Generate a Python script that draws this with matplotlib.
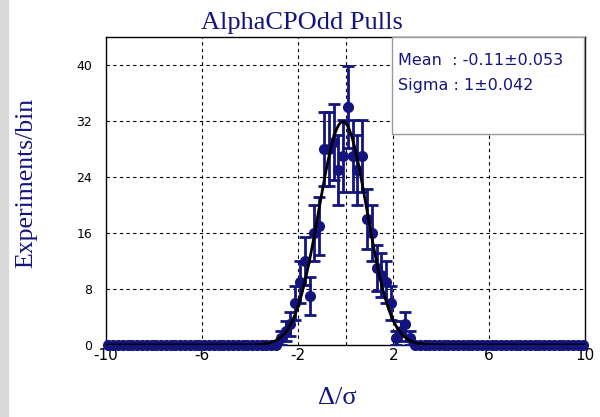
import numpy as np
import matplotlib.pyplot as plt
from matplotlib.patches import Rectangle

plt.rcParams['axes.unicode_minus'] = False

# pull histogram: 100 bins from -10 to 10, only the central bins are filled
bin_lo = -10.0
bin_hi = 10.0
n_bins = 100
filled_centers = [-2.7, -2.5, -2.3, -2.1, -1.9, -1.7, -1.5, -1.3, -1.1, -0.9,
                  -0.7, -0.5, -0.3, -0.1, 0.1, 0.3, 0.5, 0.7, 0.9, 1.1,
                  1.3, 1.5, 1.7, 1.9, 2.1, 2.3, 2.5, 2.7]
filled_counts = [1, 2, 3, 6, 9, 12, 7, 16, 17, 28,
                 28, 29, 25, 27, 34, 27, 25, 27, 18, 16,
                 11, 10, 9, 6, 1, 2, 3, 1]

# gaussian fit result
fit_mean = -0.11
fit_mean_err = 0.053
fit_sigma = 1.0
fit_sigma_err = 0.042

x_ticks = [-10, -6, -2, 2, 6, 10]
x_grid = [-6, -2, 0, 2, 6]
y_ticks = [0, 8, 16, 24, 32, 40]

navy = '#14147f'

width = (bin_hi - bin_lo) / n_bins
centers = bin_lo + width * (np.arange(n_bins) + 0.5)
counts = np.zeros(n_bins)
for c, n in zip(filled_centers, filled_counts):
    counts[np.argmin(np.abs(centers - c))] = n
errors = np.sqrt(counts)

fig = plt.figure(figsize=(6, 4.17), dpi=100)
fig.patches.append(Rectangle((0, 0), 8 / 600, 1, transform=fig.transFigure,
                             color='#d9d9d9', zorder=0))
ax = fig.add_axes([0.1767, 0.1727, 0.7983, 0.7383])

for g in x_grid:
    ax.axvline(g, color='black', linestyle=(0, (3, 3)), linewidth=0.8, zorder=1)
for g in y_ticks[1:]:
    ax.axhline(g, color='black', linestyle=(0, (3, 3)), linewidth=0.8, zorder=1)

# fit curve, normalised to the number of entries times the bin width
xs = np.linspace(bin_lo, bin_hi, 1000)
amp = counts.sum() * width / (np.sqrt(2 * np.pi) * fit_sigma)
ax.plot(xs, amp * np.exp(-0.5 * ((xs - fit_mean) / fit_sigma) ** 2),
        color='black', linewidth=2, zorder=4)

pts = ax.errorbar(centers, counts, yerr=errors, fmt='o', color=navy, markersize=7,
                  elinewidth=2, capsize=4, capthick=2, zorder=3)
pts[0].set_clip_on(False)

ax.set_xlim(bin_lo, bin_hi)
ax.set_ylim(0, 44)
ax.set_xticks(x_ticks)
ax.set_yticks(y_ticks)
ax.tick_params(length=0)
ax.tick_params(axis='x', labelsize=11, pad=2)
ax.tick_params(axis='y', labelsize=9, pad=10)
for s in ax.spines.values():
    s.set_linewidth(1)

fig.text(0.503, 0.945, 'AlphaCPOdd Pulls', ha='center', va='center',
         fontfamily='Liberation Serif', fontsize=19, color=navy)
fig.text(0.043, 0.561, 'Experiments/bin', rotation=90, ha='center', va='center',
         fontfamily='Liberation Serif', fontsize=18.5, color=navy)
fig.text(0.562, 0.045, 'Δ/σ', ha='center', va='center',
         fontfamily='Liberation Serif', fontsize=19, color=navy)

# statistics box in the upper right corner
fig.patches.append(Rectangle((0.653, 0.679), 0.32, 0.232, transform=fig.transFigure,
                             facecolor='white', edgecolor='#999999', linewidth=1,
                             zorder=5))
fig.text(0.663, 0.855, f'Mean  : {fit_mean}±{fit_mean_err}', fontsize=11.5,
         color=navy, va='center', zorder=6)
fig.text(0.663, 0.795, f'Sigma : {fit_sigma:g}±{fit_sigma_err}', fontsize=11.5,
         color=navy, va='center', zorder=6)

fig.savefig('out.png', dpi=100)
